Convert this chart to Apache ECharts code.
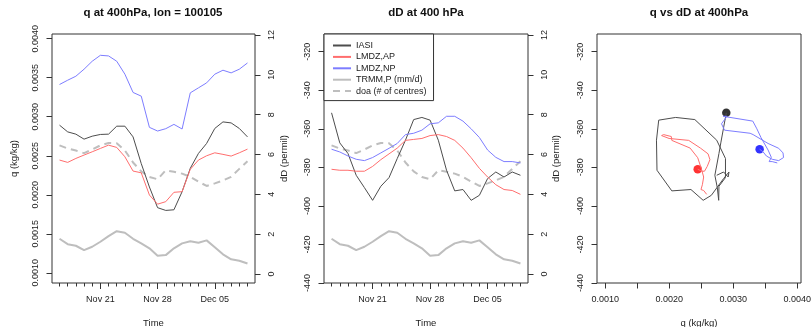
<!DOCTYPE html>
<html>
<head>
<meta charset="utf-8">
<script src="https://cdn.jsdelivr.net/npm/echarts@6/dist/echarts.min.js"></script>
<style>
  html, body { margin: 0; padding: 0; background: #fff; }
  #chart { width: 812px; height: 327px; }
</style>
</head>
<body>
<div id="chart"></div>
<script>
// daily values, Nov 16 .. Dec 09
const dates = ['Nov 16', 'Nov 17', 'Nov 18', 'Nov 19', 'Nov 20', 'Nov 21', 'Nov 22', 'Nov 23',
  'Nov 24', 'Nov 25', 'Nov 26', 'Nov 27', 'Nov 28', 'Nov 29', 'Nov 30', 'Dec 01', 'Dec 02',
  'Dec 03', 'Dec 04', 'Dec 05', 'Dec 06', 'Dec 07', 'Dec 08', 'Dec 09'];
const timeTicks = ['Nov 21', 'Nov 28', 'Dec 05'];

// q (kg/kg)
const qIasi = [0.002892, 0.002806, 0.002777, 0.002713, 0.002751, 0.002773, 0.002777, 0.002879,
  0.002879, 0.002742, 0.00240, 0.00210, 0.001835, 0.001800, 0.001808, 0.002040, 0.002339,
  0.002530, 0.002658, 0.002850, 0.002934, 0.002921, 0.002850, 0.002742];
const qAP = [0.002445, 0.002415, 0.002466, 0.002509, 0.002551, 0.002594, 0.002636, 0.002607,
  0.002487, 0.002304, 0.002282, 0.001997, 0.001880, 0.001912, 0.002032, 0.002040, 0.002326,
  0.002445, 0.002500, 0.002538, 0.002518, 0.002496, 0.002538, 0.002585];
const qNP = [0.003413, 0.003468, 0.003519, 0.003609, 0.003711, 0.003787, 0.003779, 0.003711,
  0.003545, 0.003311, 0.003264, 0.002864, 0.002817, 0.002847, 0.002902, 0.002843, 0.003306,
  0.003370, 0.003434, 0.003545, 0.003596, 0.003562, 0.003609, 0.003689];

// dD (permil)
const dIasi = [-351.7, -367.3, -372.8, -384.1, -390.5, -397.1, -389.8, -385.3, -375.4, -365.9,
  -355.2, -354.1, -355.5, -365.9, -381.5, -392.2, -391.5, -397.1, -394.5, -385.8, -382.4,
  -385.0, -382.4, -384.1];
const dAP = [-381.0, -381.5, -381.5, -382.0, -382.0, -379.5, -376.0, -373.0, -370.0, -366.0,
  -365.5, -365.0, -363.5, -363.0, -364.0, -366.0, -370.0, -375.0, -380.5, -385.0, -389.0,
  -391.5, -392.0, -394.0];
const dNP = [-370.6, -372.0, -374.1, -375.8, -376.5, -374.9, -372.5, -370.1, -367.6, -363.0,
  -362.3, -360.7, -357.4, -356.9, -353.5, -353.5, -356.0, -360.0, -364.5, -371.0, -374.8,
  -377.0, -377.0, -377.7];

// right axis: TRMM precip (mm/d) and number of centres
const trmm = [1.77, 1.50, 1.42, 1.20, 1.37, 1.62, 1.90, 2.15, 2.07, 1.77, 1.54, 1.29, 0.92,
  0.95, 1.29, 1.54, 1.65, 1.57, 1.69, 1.34, 0.99, 0.74, 0.67, 0.53];
const doa = [6.46, 6.30, 6.20, 6.07, 6.25, 6.46, 6.58, 6.56, 6.20, 5.60, 5.15, 4.87, 4.76,
  5.21, 5.13, 5.04, 4.88, 4.64, 4.42, 4.55, 4.70, 4.88, 5.28, 5.66];

const qTicks = [0.001, 0.0015, 0.002, 0.0025, 0.003, 0.0035, 0.004];
const qLabels = [0.001, 0.002, 0.003, 0.004];
const dTicks = [-440, -420, -400, -380, -360, -340, -320];
const rightTicks = [0, 2, 4, 6, 8, 10, 12];

const FONT = 'Liberation Sans';
const INK = '#333';
const C_IASI = '#4d4d4d';
const C_AP = '#ff6e6e';
const C_NP = '#7d7dff';
const C_GREY = '#bebebe';

const dayIdx = dates.map((d, i) => i);
const majorIdx = timeTicks.map(t => dates.indexOf(t));
const zip = (xs, ys) => xs.map((x, i) => [x, ys[i]]);

const labelStyle = (extra) => Object.assign({
  fontFamily: FONT, fontSize: 9, color: '#222'
}, extra);
const nameStyle = {fontFamily: FONT, fontSize: 9.5, color: '#222'};
// the box is drawn by the grid; axes only carry ticks and labels (kept on the edges)
const noLine = {show: false, onZero: false};
const tick = (values, len) => ({
  show: true, inside: false, customValues: values, length: len, lineStyle: {color: INK, width: 1}
});

// x axes for the two time panels: daily minor ticks + longer weekly ticks
const timeAxes = (g) => [
  {
    type: 'value', gridIndex: g, position: 'bottom', min: -0.92, max: 23.92,
    axisLine: noLine, splitLine: {show: false},
    axisTick: tick(dayIdx, 3.5),
    axisLabel: labelStyle({customValues: majorIdx, formatter: v => dates[v], margin: 12.5}),
    name: 'Time', nameLocation: 'middle', nameGap: 35, nameTextStyle: nameStyle
  },
  {
    type: 'value', gridIndex: g, position: 'bottom', min: -0.92, max: 23.92,
    axisLine: noLine, splitLine: {show: false},
    axisTick: tick(majorIdx, 6),
    axisLabel: {show: false}
  }
];

const qAxis = (g, pos, extra) => Object.assign({
  type: 'value', gridIndex: g, position: pos, min: 0.00087, max: 0.00406,
  axisLine: noLine, splitLine: {show: false},
  axisTick: tick(qTicks, 5.5),
  axisLabel: labelStyle({customValues: qLabels, formatter: v => v.toFixed(4), margin: 12.5}),
  name: 'q (kg/kg)', nameLocation: 'middle', nameTextStyle: nameStyle
}, extra);

const dAxis = (g, gap) => ({
  type: 'value', gridIndex: g, position: 'left', min: -440, max: -310.8,
  axisLine: noLine, splitLine: {show: false},
  axisTick: tick(dTicks, 5.5),
  axisLabel: labelStyle({customValues: dTicks, rotate: 90, margin: 11.5, formatter: v => String(v)}),
  name: 'dD (permil)', nameLocation: 'middle', nameGap: gap, nameRotate: 90, nameTextStyle: nameStyle
});

const rightAxis = (g) => ({
  type: 'value', gridIndex: g, position: 'right', min: -0.45, max: 12.05,
  axisLine: noLine, splitLine: {show: false},
  axisTick: tick(rightTicks, 5.5),
  axisLabel: labelStyle({customValues: rightTicks, rotate: 90, margin: 12})
});

const line = (name, xi, yi, data, color, width, dash) => ({
  name: name, type: 'line', xAxisIndex: xi, yAxisIndex: yi, data: data,
  showSymbol: false, symbol: 'none', silent: true, animation: false,
  lineStyle: {color: color, width: width, type: dash ? [7, 5] : 'solid'},
  itemStyle: {color: color}
});

const dot = (xi, yi, x, y, color) => ({
  type: 'scatter', xAxisIndex: xi, yAxisIndex: yi, data: [[x, y]],
  symbolSize: 8.5, itemStyle: {color: color}, silent: true, animation: false
});

const chart = echarts.init(document.getElementById('chart'));
chart.setOption({
  backgroundColor: '#fff',
  animation: false,
  title: [
    {text: 'q at 400hPa, lon = 100105', left: 153},
    {text: 'dD at 400 hPa', left: 426},
    {text: 'q vs dD at 400hPa', left: 699}
  ].map(t => Object.assign(t, {
    top: 7, padding: 0, textAlign: 'center',
    textStyle: {fontFamily: FONT, fontSize: 11.5, fontWeight: 'bold', color: '#111'}
  })),
  legend: {
    left: 324, top: 34, orient: 'vertical',
    padding: [7, 7, 5, 8], itemWidth: 18, itemHeight: 9, itemGap: 2.4,
    borderColor: INK, borderWidth: 1, backgroundColor: '#fff',
    selectedMode: false,
    itemStyle: {opacity: 0},
    textStyle: {fontFamily: FONT, fontSize: 9, color: '#222', lineHeight: 9},
    data: ['IASI', 'LMDZ,AP', 'LMDZ,NP', 'TRMM,P (mm/d)', 'doa (# of centres)']
  },
  grid: [
    {left: 52, top: 34, width: 203, height: 249},
    {left: 324, top: 34, width: 204, height: 249},
    {left: 597, top: 34, width: 204, height: 249}
  ].map(g => Object.assign(g, {
    show: true, borderColor: INK, borderWidth: 1, backgroundColor: 'transparent',
    outerBoundsMode: 'none'
  })),
  xAxis: [
    ...timeAxes(0),
    ...timeAxes(1),
    qAxis(2, 'bottom', {nameGap: 35})
  ],
  yAxis: [
    qAxis(0, 'left', {
      axisLabel: labelStyle({customValues: qTicks, formatter: v => v.toFixed(4), rotate: 90, margin: 11.5}),
      nameGap: 33, nameRotate: 90
    }),
    rightAxis(0),
    dAxis(1, 34.5),
    rightAxis(1),
    dAxis(2, 35.5)
  ],
  series: [
    // panel 1: q time series
    line('TRMM,P (mm/d)', 0, 1, zip(dayIdx, trmm), C_GREY, 2),
    line('doa (# of centres)', 0, 1, zip(dayIdx, doa), C_GREY, 2, true),
    line('IASI', 0, 0, zip(dayIdx, qIasi), C_IASI, 1),
    line('LMDZ,AP', 0, 0, zip(dayIdx, qAP), C_AP, 1),
    line('LMDZ,NP', 0, 0, zip(dayIdx, qNP), C_NP, 1),
    // panel 2: dD time series
    line('TRMM,P (mm/d)', 2, 3, zip(dayIdx, trmm), C_GREY, 2),
    line('doa (# of centres)', 2, 3, zip(dayIdx, doa), C_GREY, 2, true),
    line('IASI', 2, 2, zip(dayIdx, dIasi), C_IASI, 1),
    line('LMDZ,AP', 2, 2, zip(dayIdx, dAP), C_AP, 1),
    line('LMDZ,NP', 2, 2, zip(dayIdx, dNP), C_NP, 1),
    // panel 3: q vs dD trajectories, dot = first day
    line('iasi path', 4, 4, zip(qIasi, dIasi), C_IASI, 1),
    line('ap path', 4, 4, zip(qAP, dAP), C_AP, 1),
    line('np path', 4, 4, zip(qNP, dNP), C_NP, 1),
    dot(4, 4, qIasi[0], dIasi[0], '#000'),
    dot(4, 4, qAP[0], dAP[0], '#ff0000'),
    dot(4, 4, qNP[0], dNP[0], '#0000ff')
  ]
});
</script>
</body>
</html>
